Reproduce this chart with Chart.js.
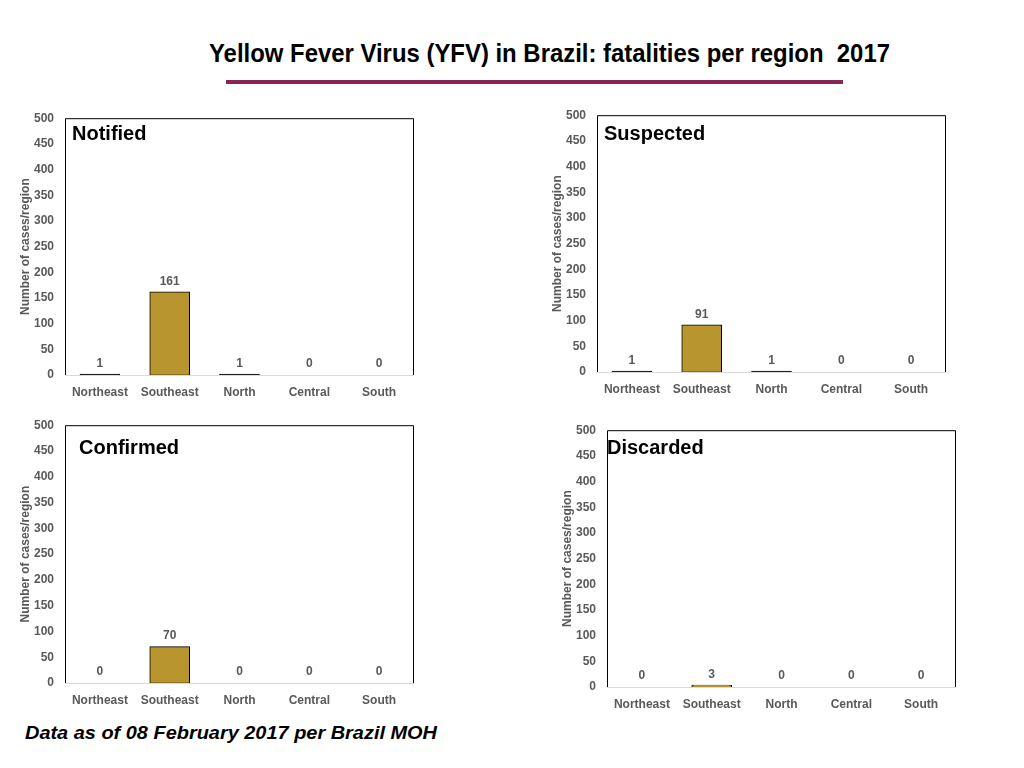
<!DOCTYPE html>
<html>
<head>
<meta charset="utf-8">
<script src="https://cdn.jsdelivr.net/npm/chart.js@4/dist/chart.umd.min.js"></script>
<style>
  html, body { margin: 0; padding: 0; background: #fff; }
  body { width: 1024px; height: 768px; position: relative; overflow: hidden; font-family: "Liberation Sans", Arial, sans-serif; }
  .panel { position: absolute; }
  #title { position: absolute; left: 209px; top: 38px; font-size: 26px; line-height: 30px; font-weight: bold; color: #000; white-space: pre; transform-origin: 0 0; }
  #rule { position: absolute; left: 226px; top: 80px; width: 617px; height: 4px; background: #8a2453; }
  #note { position: absolute; left: 25px; top: 723px; font-size: 18px; line-height: 20px; font-weight: bold; font-style: italic; color: #000; white-space: pre; transform-origin: 0 0; }
</style>
</head>
<body>
<div id="title">Yellow Fever Virus (YFV) in Brazil: fatalities per region  2017</div>
<div id="rule"></div>
<div id="note">Data as of 08 February 2017 per Brazil MOH</div>
<div class="panel" id="p0"><canvas id="c0"></canvas></div>
<div class="panel" id="p1"><canvas id="c1"></canvas></div>
<div class="panel" id="p2"><canvas id="c2"></canvas></div>
<div class="panel" id="p3"><canvas id="c3"></canvas></div>
<script>
// data
const regions = ['Northeast', 'Southeast', 'North', 'Central', 'South'];
const notified = [1, 161, 1, 0, 0];
const suspected = [1, 91, 1, 0, 0];
const confirmed = [0, 70, 0, 0, 0];
const discarded = [0, 3, 0, 0, 0];
const yTicks = [0, 50, 100, 150, 200, 250, 300, 350, 400, 450, 500];
const panelNames = ['Notified', 'Suspected', 'Confirmed', 'Discarded'];
const yTitle = 'Number of cases/region';

// plot boxes on the page (left, top, right, bottom) and where the panel name sits
const boxes = [
  { l: 65,  t: 117, r: 414, b: 375, nx: 7,  ny: 22 },
  { l: 597, t: 114, r: 946, b: 372, nx: 7,  ny: 25 },
  { l: 65,  t: 424, r: 414, b: 683, nx: 14, ny: 29 },
  { l: 607, t: 429, r: 956, b: 687, nx: 0,  ny: 24 }
];
const series = [notified, suspected, confirmed, discarded];

const gray = '#595959';
const gold = '#b8952f';
const font = '"Liberation Sans", Arial, sans-serif';
const AXW = 47, PADT = 17, PADR = 10, XH = 30;

// fit page texts to the widths in the picture
function fitText(id, w) {
  const el = document.getElementById(id);
  const s = w / el.getBoundingClientRect().width;
  el.style.transform = 'scaleX(' + s + ')';
}
fitText('title', 681);
fitText('note', 412);

const panelDeco = {
  id: 'panelDeco',
  beforeDatasetsDraw(chart) {
    const a = chart.chartArea, ctx = chart.ctx;
    ctx.save();
    ctx.lineWidth = 1;
    ctx.strokeStyle = '#000';
    ctx.beginPath();
    ctx.moveTo(a.left + 0.5, a.bottom);
    ctx.lineTo(a.left + 0.5, a.top + 0.5);
    ctx.lineTo(a.right - 0.5, a.top + 0.5);
    ctx.lineTo(a.right - 0.5, a.bottom);
    ctx.stroke();
    ctx.strokeStyle = '#d9d9d9';
    ctx.beginPath();
    ctx.moveTo(a.left, a.bottom + 0.5);
    ctx.lineTo(a.right, a.bottom + 0.5);
    ctx.stroke();
    ctx.restore();
  },
  afterDatasetsDraw(chart, args, opts) {
    const a = chart.chartArea, ctx = chart.ctx;
    const meta = chart.getDatasetMeta(0);
    const vals = chart.data.datasets[0].data;
    ctx.save();
    ctx.fillStyle = gray;
    ctx.font = 'bold 12px ' + font;
    ctx.textAlign = 'center';
    ctx.textBaseline = 'middle';
    meta.data.forEach((bar, i) => {
      ctx.fillText(String(vals[i]), bar.x, bar.y - 11);
    });
    ctx.fillStyle = '#000';
    ctx.font = 'bold 20px ' + font;
    ctx.textAlign = 'left';
    ctx.textBaseline = 'alphabetic';
    ctx.fillText(opts.name, a.left + opts.nx, a.top + opts.ny);
    ctx.restore();
  }
};

boxes.forEach((b, k) => {
  const left = b.l - AXW, top = b.t - PADT;
  const w = (b.r - b.l) + AXW + PADR, h = (b.b - b.t) + PADT + XH;
  const p = document.getElementById('p' + k);
  p.style.left = left + 'px';
  p.style.top = top + 'px';
  p.style.width = w + 'px';
  p.style.height = h + 'px';

  new Chart(document.getElementById('c' + k), {
    type: 'bar',
    data: {
      labels: regions,
      datasets: [{
        data: series[k],
        // very short bars show only their dark outline
        backgroundColor: c => (c.raw < 2 ? '#222' : gold),
        borderColor: '#000',
        borderWidth: 1,
        borderSkipped: false,
        inflateAmount: c => (c.raw > 0 ? 0.75 : 0),
        barPercentage: 0.56,
        categoryPercentage: 1
      }]
    },
    options: {
      responsive: true,
      maintainAspectRatio: false,
      animation: false,
      layout: { padding: { top: PADT, right: PADR, left: 0, bottom: 0 } },
      plugins: {
        legend: { display: false },
        title: { display: false },
        tooltip: { enabled: false },
        panelDeco: { name: panelNames[k], nx: b.nx, ny: b.ny }
      },
      scales: {
        x: {
          grid: { display: false, drawTicks: false },
          border: { display: false },
          ticks: { color: gray, font: { family: font, size: 12, weight: 'bold' }, padding: 10, maxRotation: 0 },
          afterFit(s) { s.height = XH; }
        },
        y: {
          min: 0,
          max: 500,
          grid: { display: false, drawTicks: false },
          border: { display: false },
          afterBuildTicks(s) { s.ticks = yTicks.map(v => ({ value: v })); },
          ticks: { color: gray, font: { family: font, size: 12, weight: 'bold' }, padding: 11 },
          title: { display: true, text: yTitle, color: gray, font: { family: font, size: 12, weight: 'bold' }, padding: 0 },
          afterFit(s) { s.width = AXW; }
        }
      }
    },
    plugins: [panelDeco]
  });
});
</script>
</body>
</html>
